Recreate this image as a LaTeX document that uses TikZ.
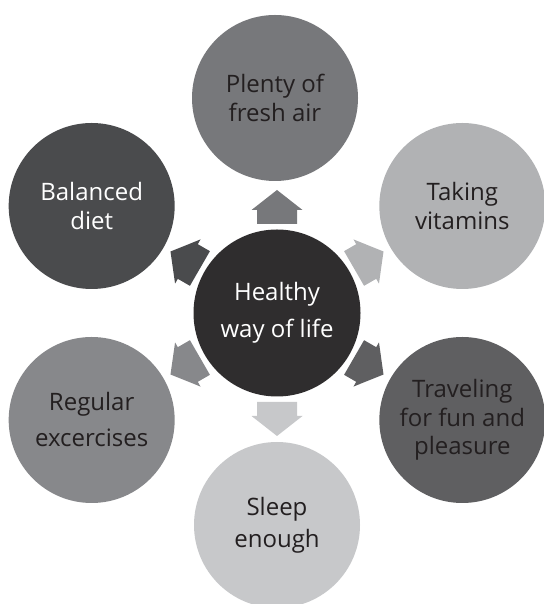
\documentclass[tikz,border=0pt]{standalone}
\usepackage{fontspec}
\setmainfont{Open Sans}
\definecolor{hubgray}{HTML}{2F2D2E}
\definecolor{airgray}{HTML}{77787B}
\definecolor{vitgray}{HTML}{B1B2B4}
\definecolor{travgray}{HTML}{5F5F61}
\definecolor{sleepgray}{HTML}{C7C8CA}
\definecolor{exgray}{HTML}{87888B}
\definecolor{dietgray}{HTML}{4A4B4D}
\definecolor{inkgray}{HTML}{231F20}
\tikzset{bubble/.style={circle, minimum size=166pt, inner sep=0pt, align=center,
   text=inkgray, font=\fontsize{24}{29}\selectfont}}
\tikzset{pointer/.pic={
   \fill[pic actions] (-17pt,-20pt) -- (-3pt,-20pt) -- (-3pt,-25.5pt) -- (17pt,0pt)
      -- (-3pt,25.5pt) -- (-3pt,20pt) -- (-17pt,20pt) -- cycle;
}}

\begin{document}
\begin{tikzpicture}

    \useasboundingbox (0,0) rectangle (543pt,604pt);

    \node[bubble, fill=hubgray, text=white, minimum size=167pt, font=\fontsize{24}{37}\selectfont] (hub) at (277pt,291pt) {Healthy\\way of life};

    \node[bubble, fill=airgray]   (air)   at (275pt,506pt) {Plenty of\\fresh air};
    \node[bubble, fill=vitgray]   (vit)   at ([shift={(30:214pt)}]hub)  {Taking\\vitamins};
    \node[bubble, fill=travgray, font=\fontsize{24}{28.5}\selectfont] (trav) at ([shift={(-30:214pt)}]hub) {Traveling\\for fun and\\pleasure};
    \node[bubble, fill=sleepgray, font=\fontsize{24}{32}\selectfont] (sleep) at ([shift={(-90:212pt)}]hub) {Sleep\\enough};
    \node[bubble, fill=exgray, font=\fontsize{24}{36}\selectfont] (ex) at ([shift={(210:214pt)}]hub) {Regular\\excercises};
    \node[bubble, fill=dietgray, text=white] (diet) at ([shift={(150:214pt)}]hub) {Balanced\\diet};

    \pic[fill=airgray,   rotate=90]  (to-air)   at ([shift={(90:106pt)}]hub)  {pointer};
    \pic[fill=vitgray,   rotate=30]  (to-vit)   at ([shift={(30:106pt)}]hub)  {pointer};
    \pic[fill=travgray,  rotate=-30] (to-trav)  at ([shift={(-30:106pt)}]hub) {pointer};
    \pic[fill=sleepgray, rotate=-90] (to-sleep) at ([shift={(-90:106pt)}]hub) {pointer};
    \pic[fill=exgray,    rotate=210] (to-ex)    at ([shift={(210:106pt)}]hub) {pointer};
    \pic[fill=dietgray,  rotate=150] (to-diet)  at ([shift={(150:106pt)}]hub) {pointer};

\end{tikzpicture}
\end{document}
